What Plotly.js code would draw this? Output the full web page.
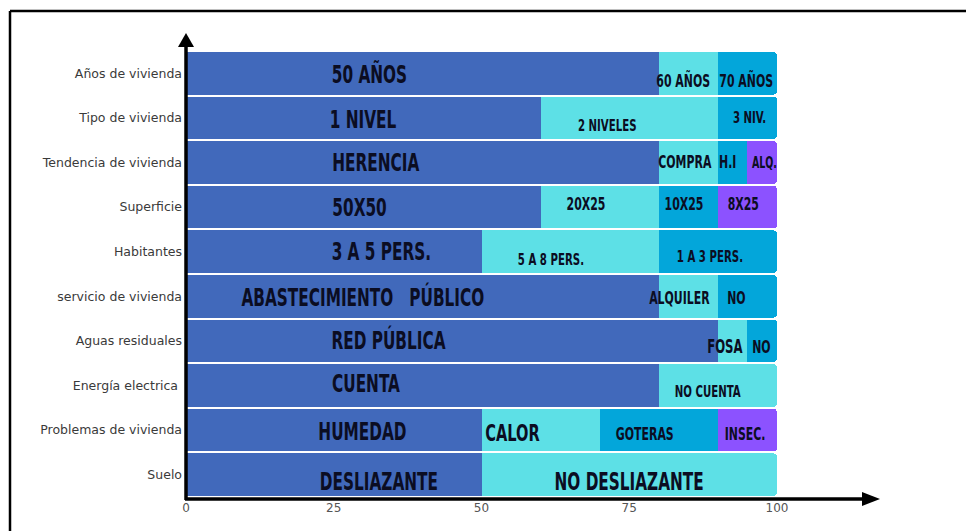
<!DOCTYPE html>
<html>
<head>
<meta charset="utf-8">
<script src="https://cdn.plot.ly/plotly-3.0.1.min.js"></script>
<style>
  html, body { margin: 0; padding: 0; background: #ffffff; }
  #chart { width: 966px; height: 531px; }
</style>
</head>
<body>
<div id="chart"></div>
<script>
// ---- data ----
const categories = ["Años de vivienda", "Tipo de vivienda", "Tendencia de vivienda", "Superficie",
  "Habitantes", "servicio de vivienda", "Aguas residuales", "Energía electrica\u00a0",
  "Problemas de vivienda", "Suelo"];

const seg1 = [80, 60, 80, 60, 50, 80, 90, 80, 50, 50];
const seg2 = [10, 30, 10, 20, 30, 10, 5, 20, 20, 50];
const seg3 = [10, 10, 5, 10, 20, 10, 5, null, 20, null];
const seg4 = [null, null, 5, 10, null, null, null, null, 10, null];

const label1 = ["50 AÑOS", "1 NIVEL", "HERENCIA", "50X50", "3 A 5 PERS.",
  "ABASTECIMIENTO\u00a0\u00a0\u00a0PÚBLICO", "RED PÚBLICA", "CUENTA", "HUMEDAD", "DESLIAZANTE"];
const label2 = ["60 AÑOS", "2 NIVELES", "COMPRA", "20X25", "5 A 8 PERS.",
  "ALQUILER", "FOSA", "NO CUENTA", "CALOR", "NO DESLIAZANTE"];
const label3 = ["70 AÑOS", "3 NIV.", "H.I", "10X25", "1 A 3 PERS.", "NO", "NO", null, "GOTERAS", null];
const label4 = [null, null, "ALQ.", "8X25", null, null, null, null, "INSEC.", null];

const xTicks = [0, 25, 50, 75, 100];

// ---- styling / label placement (layout only) ----
const segColors = ["#4169BB", "#5DE0E6", "#03A6DA", "#8C52FF"];
const labelX = [[31.1, 84.1, 94.8], [30.0, 71.2, 95.3], [32.1, 84.5, 91.7, 97.9], [29.4, 67.7, 84.3, 94.3],
  [33.1, 61.8, 88.7], [29.9, 83.5, 93.1], [34.3, 91.2, 97.4], [30.5, 88.3],
  [29.9, 55.2, 77.7, 94.5], [32.6, 75.0]];
const labelDy = [[1, 7, 7], [2, 7, -1], [0, -1, -1, 0], [1, -3, -3, -3], [0, 7, 4], [1, 2, 2],
  [0, 6, 6], [-2, 5], [2, 3, 4, 4], [7, 7]];
const labelSize = [[21, 15, 15], [21, 14, 14], [21, 15, 15, 13], [21, 15, 15, 15], [21, 14, 14],
  [21, 15, 15], [21, 16, 15], [21, 14], [21, 20, 15, 15], [21, 21]];
const labelFont = "'DejaVu Sans Condensed', 'Liberation Sans Narrow', sans-serif";
const labelScaleX = 0.81, labelScaleY = 1.18;

const segs = [seg1, seg2, seg3, seg4];
const labels = [label1, label2, label3, label4];

const traces = segs.map((vals, k) => ({
  type: "bar",
  orientation: "h",
  y: categories,
  x: vals,
  marker: { color: segColors[k], line: { width: 0 } },
  hoverinfo: "skip",
  showlegend: false
}));

const annotations = [];
categories.forEach((cat, i) => {
  labels.forEach((lab, k) => {
    if (lab[i] == null) return;
    annotations.push({
      x: labelX[i][k], y: cat, xref: "x", yref: "y",
      text: "<b>" + lab[i] + "</b>",
      showarrow: false, xanchor: "center", yanchor: "middle",
      yshift: -labelDy[i][k],
      font: { family: labelFont, size: labelSize[i][k], color: "#0b0d22" }
    });
  });
});

// pixel helpers for decoration (plot area: x 186..777, y 51..497)
const px = v => (v - 186) / 591;
const py = v => (497 - v) / 446;

const shapes = [
  { type: "line", xref: "paper", yref: "paper", x0: px(10), x1: px(10), y0: py(540), y1: py(11),
    line: { color: "#000", width: 2.5 } },
  { type: "line", xref: "paper", yref: "paper", x0: px(10), x1: px(980), y0: py(11), y1: py(11),
    line: { color: "#000", width: 2.5 } },
  { type: "line", xref: "paper", yref: "paper", x0: 0, x1: 0, y0: py(500), y1: py(44),
    line: { color: "#000", width: 3.5 } },
  { type: "path", xref: "paper", yref: "paper",
    path: `M ${px(186)} ${py(33)} L ${px(194)} ${py(47)} L ${px(178)} ${py(47)} Z`,
    fillcolor: "#000", line: { width: 0 } },
  { type: "line", xref: "paper", yref: "paper", x0: px(185), x1: px(865), y0: py(499), y1: py(499),
    line: { color: "#000", width: 3.5 } },
  { type: "path", xref: "paper", yref: "paper",
    path: `M ${px(880)} ${py(499)} L ${px(862)} ${py(492)} L ${px(862)} ${py(506)} Z`,
    fillcolor: "#000", line: { width: 0 } }
];

const layout = {
  width: 966, height: 531,
  margin: { l: 186, r: 189, t: 51, b: 34, pad: 0 },
  paper_bgcolor: "#ffffff",
  plot_bgcolor: "#ffffff",
  barmode: "stack",
  bargap: 0.045,
  barcornerradius: 4,
  xaxis: {
    range: [0, 100],
    tickvals: xTicks,
    ticktext: xTicks.map(String),
    showgrid: true,
    gridcolor: "rgba(255,255,255,0.10)",
    layer: "above traces",
    zeroline: false,
    showline: false,
    ticks: "",
    ticklabelstandoff: 2,
    tickfont: { family: "'DejaVu Sans', sans-serif", size: 12, color: "#555555" },
    fixedrange: true
  },
  yaxis: {
    type: "category",
    autorange: "reversed",
    showgrid: false,
    zeroline: false,
    showline: false,
    ticks: "",
    ticklabelstandoff: 3,
    tickfont: { family: "'DejaVu Sans', sans-serif", size: 12.5, color: "#3a3a3a" },
    fixedrange: true
  },
  annotations: annotations,
  shapes: shapes,
  hovermode: false
};

Plotly.newPlot("chart", traces, layout, { displayModeBar: false, staticPlot: true }).then(gd => {
  // give the bar labels a tall, condensed look (text stays real SVG text)
  gd.querySelectorAll(".annotation-text").forEach(t => {
    const bb = t.getBBox();
    const cx = bb.x + bb.width / 2, cy = bb.y + bb.height / 2;
    const prev = t.getAttribute("transform") || "";
    t.setAttribute("transform",
      `${prev} translate(${cx},${cy}) scale(${labelScaleX},${labelScaleY}) translate(${-cx},${-cy})`);
  });
});
</script>
</body>
</html>
